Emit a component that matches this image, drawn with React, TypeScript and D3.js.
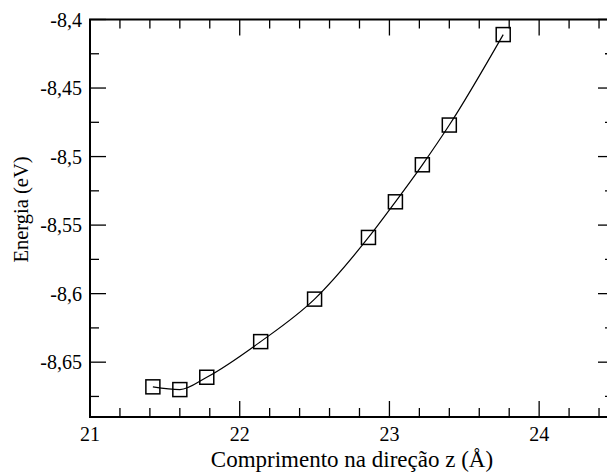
import React, { useEffect, useRef } from 'react';
import * as d3 from 'd3';

// comprimento na direção z (Å) e energia (eV)
const comprimento = [21.42, 21.6, 21.78, 22.14, 22.5, 22.86, 23.04, 23.22, 23.4, 23.76];
const energia = [-8.668, -8.670, -8.661, -8.635, -8.604, -8.559, -8.533, -8.506, -8.477, -8.411];

const xTicks = [21, 22, 23, 24];
const yTicks = [-8.65, -8.6, -8.55, -8.5, -8.45, -8.4];

const fmt = (v: number) => String(+v.toFixed(3)).replace('.', ',');

export default function App() {
	const ref = useRef<SVGSVGElement>(null);

	useEffect(() => {
		const svg = d3.select(ref.current);
		svg.selectAll('*').remove();

		const width = 607;
		const height = 474;
		const margin = {top: 19.5, right: -7, bottom: 57, left: 90};

		const x = d3.scaleLinear()
			.domain([21, 24.5])
			.range([margin.left, width - margin.right]);

		const y = d3.scaleLinear()
			.domain([-8.69, -8.4])
			.range([height - margin.bottom, margin.top]);

		const [x0, x1] = x.range();
		const [y0, y1] = y.range();

		const xMinor = d3.range(21, 24.5001, 0.2).filter(v => Math.abs(v - Math.round(v)) > 1e-6);
		const yMinor = d3.range(-8.675, -8.4, 0.05);

		const major = 16;
		const minor = 9;
		const g = svg.append('g').attr('stroke', '#000').attr('stroke-width', 1.3);

		// ticks on the bottom and the top
		xTicks.forEach(v => {
			g.append('line').attr('x1', x(v)).attr('x2', x(v)).attr('y1', y0).attr('y2', y0 - major);
			g.append('line').attr('x1', x(v)).attr('x2', x(v)).attr('y1', y1).attr('y2', y1 + major);
		});
		xMinor.forEach(v => {
			g.append('line').attr('x1', x(v)).attr('x2', x(v)).attr('y1', y0).attr('y2', y0 - minor);
			g.append('line').attr('x1', x(v)).attr('x2', x(v)).attr('y1', y1).attr('y2', y1 + minor);
		});
		// ticks on the left and the right
		yTicks.forEach(v => {
			g.append('line').attr('y1', y(v)).attr('y2', y(v)).attr('x1', x0).attr('x2', x0 + major);
			g.append('line').attr('y1', y(v)).attr('y2', y(v)).attr('x1', x1).attr('x2', x1 - major);
		});
		yMinor.forEach(v => {
			g.append('line').attr('y1', y(v)).attr('y2', y(v)).attr('x1', x0).attr('x2', x0 + minor);
			g.append('line').attr('y1', y(v)).attr('y2', y(v)).attr('x1', x1).attr('x2', x1 - minor);
		});

		svg.append('rect')
			.attr('x', x0).attr('y', y1)
			.attr('width', x1 - x0).attr('height', y0 - y1)
			.attr('fill', 'none').attr('stroke', '#000').attr('stroke-width', 2);

		// tick labels
		svg.append('g')
			.selectAll('text')
			.data(xTicks)
			.join('text')
			.attr('x', d => x(d))
			.attr('y', y0 + 23.5)
			.attr('text-anchor', 'middle')
			.attr('font-size', 20)
			.text(d => fmt(d));

		svg.append('g')
			.selectAll('text')
			.data(yTicks)
			.join('text')
			.attr('x', x0 - 8)
			.attr('y', d => y(d))
			.attr('dy', '0.35em')
			.attr('text-anchor', 'end')
			.attr('font-size', 20)
			.text(d => fmt(d));

		// axis titles
		svg.append('text')
			.attr('x', (x0 + x1) / 2)
			.attr('y', 466.5)
			.attr('text-anchor', 'middle')
			.attr('font-size', 23)
			.text('Comprimento na direção z (Å)');

		svg.append('text')
			.attr('transform', `translate(28,209.5) rotate(-90)`)
			.attr('text-anchor', 'middle')
			.attr('font-size', 20.5)
			.text('Energia (eV)');

		const pts = comprimento.map((c, i) => [c, energia[i]] as [number, number]);

		const line = d3.line<[number, number]>()
			.x(d => x(d[0]))
			.y(d => y(d[1]))
			.curve(d3.curveMonotoneX);

		svg.append('path')
			.attr('d', line(pts))
			.attr('fill', 'none')
			.attr('stroke', '#000')
			.attr('stroke-width', 1.2);

		const s = 14;
		svg.append('g')
			.selectAll('rect')
			.data(pts)
			.join('rect')
			.attr('x', d => x(d[0]) - s / 2)
			.attr('y', d => y(d[1]) - s / 2)
			.attr('width', s)
			.attr('height', s)
			.attr('fill', 'none')
			.attr('stroke', '#000')
			.attr('stroke-width', 1.5);
	}, []);

	return (
		<svg ref={ref} width={607} height={474}
			style={{position: 'absolute', left: 0, top: 0, background: '#fff', fontFamily: 'Liberation Serif, serif'}} />
	);
}
